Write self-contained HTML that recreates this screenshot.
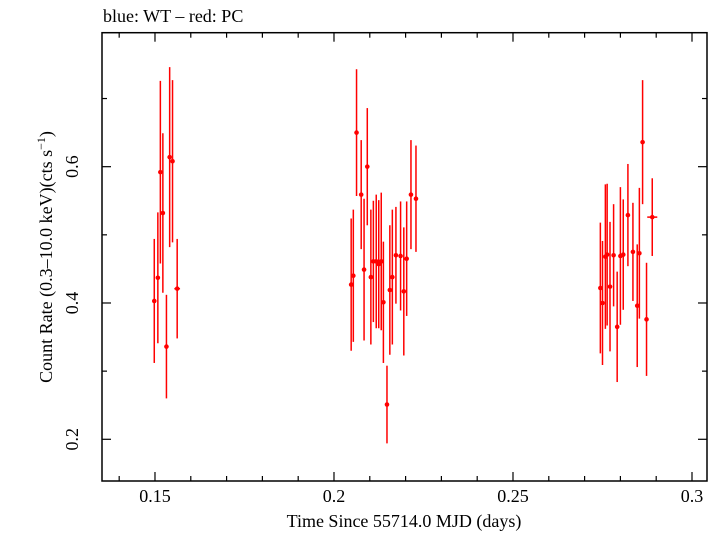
<!DOCTYPE html>
<html><head><meta charset="utf-8"><style>
html,body{margin:0;padding:0;background:#fff;}
svg text{font-family:"Liberation Serif",serif;fill:#000;}
</style></head><body>
<svg id="chart" width="718" height="532" viewBox="0 0 718 532" xmlns="http://www.w3.org/2000/svg">
<text x="103" y="22" font-size="18">blue: WT – red: PC</text>
<g id="ticks"></g>
<g id="marks"></g>
<rect x="102" y="32.7" width="605" height="448.3" fill="none" stroke="#000" stroke-width="1.5"/>
<text x="404" y="527" font-size="18" text-anchor="middle">Time Since 55714.0 MJD (days)</text>
<text transform="translate(52,257) rotate(-90)" font-size="18" text-anchor="middle">Count Rate (0.3–10.0 keV)(cts s<tspan font-size="12" dy="-7">−1</tspan><tspan dy="7">)</tspan></text>
</svg>
<script>
const times = [0.1498,0.1508,0.1515,0.1522,0.1532,0.1541,0.1549,0.1562,
 0.2048,0.2054,0.2063,0.2076,0.2084,0.2093,0.2103,0.2110,0.2118,0.2125,0.2132,0.2138,0.2148,0.2156,0.2163,0.2173,0.2186,0.2195,0.2203,0.2215,0.2229,
 0.2744,0.2750,0.2758,0.2763,0.2771,0.2781,0.2791,0.2800,0.2808,0.2821,0.2835,0.2847,0.2853,0.2862,0.2873,0.2889];
const rates = [0.403,0.437,0.592,0.532,0.336,0.614,0.608,0.421,
 0.427,0.440,0.650,0.559,0.449,0.600,0.438,0.461,0.461,0.457,0.461,0.401,0.251,0.419,0.438,0.470,0.469,0.417,0.465,0.559,0.553,
 0.422,0.400,0.468,0.471,0.424,0.470,0.365,0.469,0.471,0.529,0.475,0.396,0.473,0.636,0.376,0.526];
const rateErrs = [0.091,0.096,0.134,0.117,0.076,0.132,0.119,0.073,
 0.097,0.097,0.093,0.080,0.104,0.086,0.099,0.089,0.098,0.094,0.101,0.089,0.057,0.095,0.099,0.071,0.080,0.094,0.084,0.080,0.078,
 0.096,0.091,0.106,0.104,0.095,0.075,0.081,0.101,0.081,0.075,0.072,0.090,0.096,0.091,0.083,0.057];
const timeErrs = [0.0005,0.0005,0.0005,0.0005,0.0005,0.0005,0.0005,0.0008,
 0.0004,0.0004,0.0004,0.0004,0.0004,0.0004,0.0004,0.0004,0.0004,0.0004,0.0004,0.0004,0.0004,0.0004,0.0004,0.0004,0.0004,0.0004,0.0004,0.0004,0.0004,
 0.0004,0.0004,0.0004,0.0004,0.0004,0.0004,0.0004,0.0004,0.0004,0.0004,0.0004,0.0004,0.0004,0.0004,0.0004,0.0014];
const xTickLabels = ["0.15","0.2","0.25","0.3"];
const yTickLabels = ["0.2","0.4","0.6"];

const NS="http://www.w3.org/2000/svg";
const X0=102,X1=707,Y0=32.7,Y1=481;
const xMin=0.1352,xMax=0.30419,yMin=0.1388,yMax=0.7966;
const xs=t=>X0+(t-xMin)/(xMax-xMin)*(X1-X0);
const ys=v=>Y1-(v-yMin)/(yMax-yMin)*(Y1-Y0);
function mk(tag,attrs,parent){const e=document.createElementNS(NS,tag);for(const k in attrs)e.setAttribute(k,attrs[k]);parent.appendChild(e);return e;}
const tg=document.getElementById('ticks');
// x ticks
for(let i=14;i<=30;i++){
  const v=i/100, x=xs(v), major=(i%5===0), L=major?9:5;
  const a=mk('line',{x1:x,x2:x,y1:Y1,y2:Y1-L,stroke:'#000','stroke-width':1.2},tg);
  
  
  const b=mk('line',{x1:x,x2:x,y1:Y0,y2:Y0+L,stroke:'#000','stroke-width':1.2},tg);
  
  
}
xTickLabels.forEach(s=>{
  const t=mk('text',{x:xs(parseFloat(s)),y:502,'font-size':18,'text-anchor':'middle'},tg);
  t.textContent=s;
  
  
});
for(let i=2;i<=7;i++){
  const v=i/10, y=ys(v), major=(i%2===0), L=major?9:5;
  const a=mk('line',{x1:X0,x2:X0+L,y1:y,y2:y,stroke:'#000','stroke-width':1.2},tg);
  
  
  const b=mk('line',{x1:X1,x2:X1-L,y1:y,y2:y,stroke:'#000','stroke-width':1.2},tg);
  
  
}
yTickLabels.forEach(s=>{
  const y=ys(parseFloat(s));
  const t=mk('text',{transform:`translate(78,${y}) rotate(-90)`,'font-size':18,'text-anchor':'middle'},tg);
  t.textContent=s;
  
  
});
const mg=document.getElementById('marks');
times.forEach((t,i)=>{
  const g=mk('g',{},mg);
  
  
  const x=xs(t), y=ys(rates[i]);
  mk('line',{x1:x,x2:x,y1:ys(rates[i]+rateErrs[i]),y2:ys(rates[i]-rateErrs[i]),stroke:'#f00','stroke-width':1.5},g);
  mk('line',{x1:xs(t-timeErrs[i]),x2:xs(t+timeErrs[i]),y1:y,y2:y,stroke:'#f00','stroke-width':1.5},g);
  mk('circle',{cx:x,cy:y,r:2.3,fill:'#f00'},g);
});
</script>
</body></html>
